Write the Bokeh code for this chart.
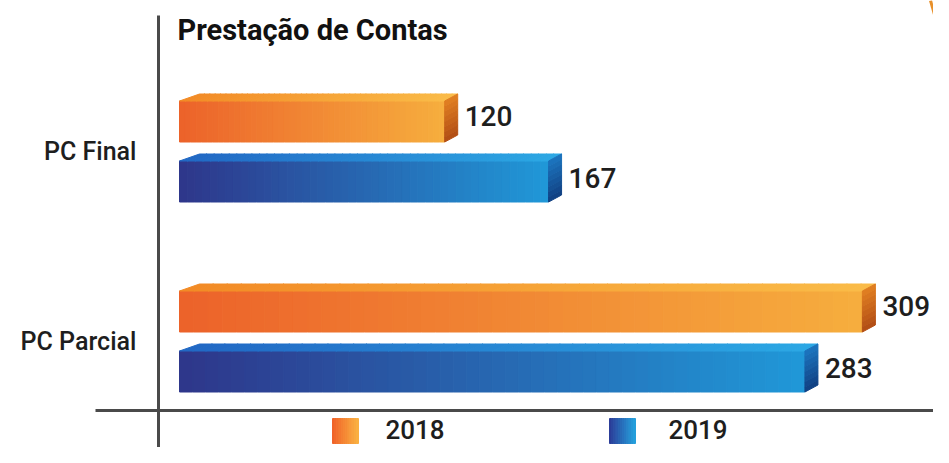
import numpy as np
from bokeh.plotting import figure
from bokeh.models import Range1d, ColumnDataSource
from bokeh.embed import file_html
from bokeh.resources import INLINE
from bokeh.core.properties import value

# ---------------- data ----------------
title = "Prestação de Contas"
categories = ["PC Final", "PC Parcial"]
years = ["2018", "2019"]
values_2018 = [120, 309]
values_2019 = [167, 283]

# ---------------- geometry ----------------
W, H = 933, 447
PX = 2.21            # pixels per unit on x
ZERO_SX = 179        # screen x of value 0
YPX = 190.0          # pixels per unit on y (distance between groups)
x_start = -ZERO_SX / PX
x_end = x_start + W / PX
y_end = 337.5 / YPX
y_start = y_end - H / YPX


def X(sx):
    return x_start + sx / PX


def Y(sy):
    return y_end - sy / YPX


MED = value("'Roboto Medium', Roboto")

cat_y = {c: float(len(categories) - 1 - i) for i, c in enumerate(categories)}
front_h = 41 / YPX
dy = 7 / YPX
dx = 13 / PX
dxl = 20 / PX
offsets = {"2018": 26.5 / YPX, "2019": -33.5 / YPX}
label_off = {"2018": 32 / YPX, "2019": -30 / YPX}

pal = {
    "2018": dict(front=((236, 98, 42), (246, 174, 62)),
                 top=((242, 138, 38), (250, 188, 72)),
                 side=((176, 76, 20), (226, 128, 34))),
    "2019": dict(front=((46, 54, 138), (32, 152, 216)),
                 top=((34, 104, 196), (44, 168, 228)),
                 side=((16, 62, 128), (28, 118, 192))),
}


def mix(c0, c1, t):
    return "#%02x%02x%02x" % tuple(int(round(a + (b - a) * t)) for a, b in zip(c0, c1))


p = figure(width=W, height=H, x_range=Range1d(x_start, x_end), y_range=Range1d(y_start, y_end),
           output_backend="svg", toolbar_location=None, min_border=0,
           x_axis_location=None, y_axis_location=None)
p.grid.visible = False
p.outline_line_color = None
p.background_fill_color = "white"

N = 48
series = {"2018": values_2018, "2019": values_2019}
lab_x, lab_y, lab_t = [], [], []
for yr in years:
    c = pal[yr]
    for cat, v in zip(categories, series[yr]):
        yc = cat_y[cat] + offsets[yr]
        yb, yt = yc - front_h / 2, yc + front_h / 2
        # front face gradient slices
        edges = np.linspace(0, v, N + 1)
        cols = [mix(c["front"][0], c["front"][1], (i + 0.5) / N) for i in range(N)]
        src = ColumnDataSource(dict(l=edges[:-1], r=edges[1:], y=[yc] * N, c=cols))
        p.hbar(y="y", left="l", right="r", height=front_h, fill_color="c", line_color="c",
               line_width=1, source=src)
        # top face slices
        xs, ys, tc = [], [], []
        for i in range(N):
            t0, t1 = i / N, (i + 1) / N
            f0, f1 = v * t0, v * t1
            b0, b1 = dxl + (v + dx - dxl) * t0, dxl + (v + dx - dxl) * t1
            xs.append([f0, b0, b1, f1])
            ys.append([yt, yt + dy, yt + dy, yt])
            tc.append(mix(c["top"][0], c["top"][1], (i + 0.5) / N))
        p.patches(xs="xs", ys="ys", fill_color="c", line_color="c", line_width=1,
                  source=ColumnDataSource(dict(xs=xs, ys=ys, c=tc)))
        # side face bands
        M = 8
        xs, ys, sc = [], [], []
        for k in range(M):
            t0, t1 = k / M, (k + 1) / M
            y0, y1 = yb + (yt - yb) * t0, yb + (yt - yb) * t1
            xs.append([v, v, v + dx, v + dx])
            ys.append([y0, y1, y1 + dy, y0 + dy])
            sc.append(mix(c["side"][0], c["side"][1], (k + 0.5) / M))
        p.patches(xs="xs", ys="ys", fill_color="c", line_color="c", line_width=1,
                  source=ColumnDataSource(dict(xs=xs, ys=ys, c=sc)))
        lab_x.append(v + 20 / PX)
        lab_y.append(cat_y[cat] + label_off[yr])
        lab_t.append(str(v))

# value labels
p.text(x="x", y="y", text="t", source=ColumnDataSource(dict(x=lab_x, y=lab_y, t=lab_t)),
       text_font=MED, text_font_size="28px", text_color="#1e1e1e",
       text_baseline="middle", text_align="left")

# category labels
p.text(x=[X(136)] * len(categories), y=[cat_y[c] - 3 / YPX for c in categories], text=categories,
       text_font=MED, text_font_size="25px", text_color="#1e1e1e",
       text_baseline="middle", text_align="right")

# title
p.text(x=[X(177)], y=[Y(29)], text=[title], text_font=value("Roboto"), text_font_style="bold",
       text_font_size="29px", text_color="#111111", text_baseline="middle", text_align="left")

# axis lines
p.segment(x0=[X(158)], y0=[Y(15)], x1=[X(158)], y1=[Y(480)], line_color="#4a4a4a", line_width=3)
p.segment(x0=[X(95)], y0=[Y(410)], x1=[X(960)], y1=[Y(410)], line_color="#4a4a4a", line_width=3)

# legend
leg_colors = {"2018": ((240, 96, 40), (250, 178, 66)), "2019": ((44, 58, 150), (36, 162, 222))}
leg_sx = {"2018": 332, "2019": 609}
txt_sx = {"2018": 385, "2019": 668}
sq_top, sq_bot = 418, 443
for yr in years:
    M = 14
    s0 = leg_sx[yr]
    e = np.linspace(X(s0), X(s0 + 26), M + 1)
    cols = [mix(leg_colors[yr][0], leg_colors[yr][1], (i + 0.5) / M) for i in range(M)]
    p.hbar(y=[(Y(sq_top) + Y(sq_bot)) / 2] * M, left=e[:-1], right=e[1:],
           height=Y(sq_top) - Y(sq_bot), fill_color=cols, line_color=cols, line_width=1)
p.text(x=[X(txt_sx[y]) for y in years], y=[Y(429)] * len(years), text=years,
       text_font=MED, text_font_size="26px", text_color="#1e1e1e",
       text_baseline="middle", text_align="left")

# decorative stroke at top right
p.line(x=[X(930), X(948)], y=[Y(0), Y(63)], line_color="#e8902a", line_width=3)

open("out.html", "w").write(file_html(p, INLINE))
